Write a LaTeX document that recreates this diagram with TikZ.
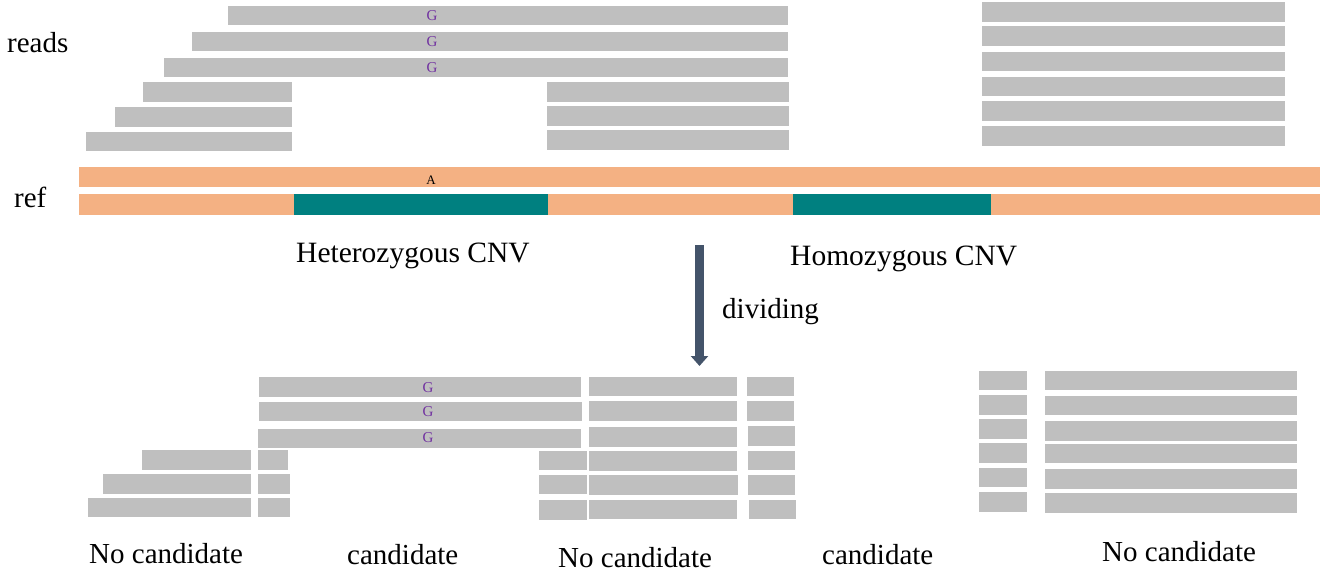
\documentclass[tikz,border=0pt]{standalone}
\usepackage{fontspec}
\setmainfont{Liberation Serif}
\usetikzlibrary{arrows.meta}
\definecolor{readc}{HTML}{BFBFBF}
\definecolor{refc}{HTML}{F4B183}
\definecolor{cnvc}{HTML}{008080}
\definecolor{arrc}{HTML}{44546A}
\definecolor{snpc}{HTML}{7030A0}
\newcommand\myread[4]{\fill[readc] (#1,#2) rectangle (#3,#4);}
\tikzset{
  lbl/.style={inner sep=0pt, anchor=base west, font=\fontsize{29}{34}\selectfont, text=black},
  cnvlbl/.style={inner sep=0pt, anchor=base west, font=\fontsize{29.5}{34}\selectfont, text=black},
  snp/.style={inner sep=0pt, font=\fontsize{15}{18}\selectfont, text=snpc},
  base/.style={inner sep=0pt, font=\fontsize{13}{15}\selectfont, text=black},
  divarrow/.style={line width=9pt, draw=arrc, -{Triangle[width=17pt,length=10pt]}}
}
\begin{document}
\begin{tikzpicture}[x=1pt,y=-1pt]
\useasboundingbox (0,0) rectangle (1343,575);
% ---------- top reads, left region ----------
\myread{228}{6}{788}{25}
\myread{192}{32}{788}{51}
\myread{164}{58}{788}{77}
\myread{143}{82}{292}{102}
\myread{115}{107}{292}{127}
\myread{86}{132}{292}{151}
\myread{547}{82}{789}{102}
\myread{547}{106}{789}{126}
\myread{547}{130}{789}{150}
\node[snp] (g1) at (432,16) {G};
\node[snp] (g2) at (432,42) {G};
\node[snp] (g3) at (432,68) {G};
% ---------- top reads, right region ----------
\myread{982}{2}{1285}{22}
\myread{982}{26}{1285}{46}
\myread{982}{52}{1285}{71}
\myread{982}{77}{1285}{96}
\myread{982}{101}{1285}{121}
\myread{982}{126}{1285}{146}
% ---------- reference ----------
\fill[refc] (79,167) rectangle (1320,187);
\fill[refc] (79,194) rectangle (1320,215);
\fill[cnvc] (294,194) rectangle (548,215);
\fill[cnvc] (793,194) rectangle (991,215);
\node[base] (refA) at (431,180) {A};
% ---------- labels ----------
\node[lbl] (reads) at (7,53) {reads};
\node[lbl] (ref) at (14,207) {ref};
\node[cnvlbl] (het) at (296,262) {Heterozygous CNV};
\node[cnvlbl] (hom) at (790,265) {Homozygous CNV};
\node[lbl] (div) at (722,318) {dividing};
% ---------- arrow ----------
\coordinate (atop) at (699.5,245);
\coordinate (abot) at (699.5,366);
\draw[divarrow] (atop) -- (abot);
% ---------- bottom reads ----------
\myread{259}{377}{581}{397}
\myread{259}{402}{582}{421}
\myread{258}{429}{581}{448}
\node[snp] (g4) at (428,388) {G};
\node[snp] (g5) at (428,412) {G};
\node[snp] (g6) at (428,438) {G};
\myread{142}{450}{251}{470}
\myread{103}{474}{251}{494}
\myread{88}{498}{251}{517}
\myread{258}{450}{288}{470}
\myread{258}{474}{290}{494}
\myread{258}{498}{290}{517}
\myread{539}{451}{587}{470}
\myread{539}{475}{587}{494}
\myread{539}{500}{587}{520}
\myread{589}{377}{737}{396}
\myread{589}{401}{737}{421}
\myread{589}{427}{737}{447}
\myread{589}{451}{737}{471}
\myread{589}{475}{738}{495}
\myread{589}{500}{737}{519}
\myread{747}{377}{794}{396}
\myread{747}{401}{794}{421}
\myread{748}{426}{795}{446}
\myread{748}{451}{795}{470}
\myread{748}{475}{795}{495}
\myread{749}{500}{796}{519}
\myread{979}{371}{1027}{390}
\myread{979}{395}{1027}{415}
\myread{979}{419}{1027}{439}
\myread{979}{443}{1027}{463}
\myread{979}{468}{1027}{487}
\myread{979}{492}{1027}{512}
\myread{1045}{371}{1297}{390}
\myread{1045}{396}{1297}{415}
\myread{1045}{421}{1297}{441}
\myread{1045}{444}{1297}{463}
\myread{1045}{469}{1297}{489}
\myread{1045}{493}{1297}{513}
% ---------- bottom labels ----------
\node[lbl] (nc1) at (89,563) {No candidate};
\node[lbl] (c1) at (347,564) {candidate};
\node[lbl] (nc2) at (558,567) {No candidate};
\node[lbl] (c2) at (822,564) {candidate};
\node[lbl] (nc3) at (1102,561) {No candidate};
\end{tikzpicture}
\end{document}
